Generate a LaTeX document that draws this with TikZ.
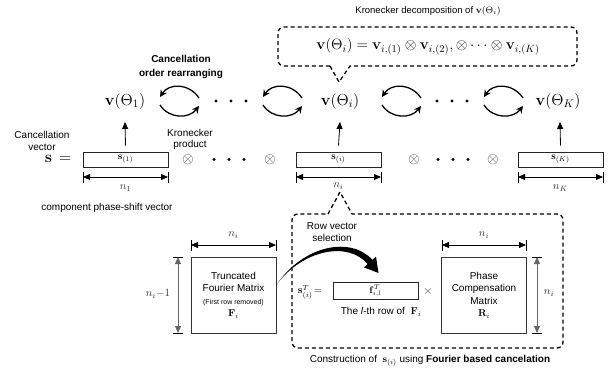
\RequirePackage{fix-cm}
\documentclass[tikz,border=0pt]{standalone}
\usepackage[no-math]{fontspec}
\setmainfont{Liberation Sans}
\usetikzlibrary{arrows.meta,calc}
\newcommand\hdimline[3]{%
  \draw[dimtick] (#1,#3-5.5) -- (#1,#3+5.5);
  \draw[dimtick] (#2,#3-5.5) -- (#2,#3+5.5);
  \draw[dimarrow] (#1,#3) -- (#2,#3);}
\newcommand\vdimline[3]{%
  \draw[dimtick] (#1-5,#2) -- (#1+5,#2);
  \draw[dimtick] (#1-5,#3) -- (#1+5,#3);
  \draw[dimarrow, draw=black!60] (#1,#2) -- (#1,#3);}
\begin{document}
\begin{tikzpicture}[x=1pt,y=-1pt,
  txt/.style={font=\fontsize{10}{12}\selectfont, inner sep=0pt, align=center},
  bigm/.style={font=\fontsize{16}{19}\selectfont, inner sep=0pt},
  vecbox/.style={draw=black!85, line width=0.7pt, minimum width=85pt, minimum height=15pt, inner sep=0pt, font=\fontsize{10}{12}\selectfont},
  matbox/.style={draw=black!80, line width=0.8pt, minimum width=85pt, minimum height=76pt, inner sep=0pt, align=center, font=\fontsize{10}{12.5}\selectfont},
  uparrow/.style={-{Triangle[length=7pt,width=6pt]}, line width=0.8pt},
  dimarrow/.style={{Triangle[length=7pt,width=6pt]}-{Triangle[length=7pt,width=6pt]}, line width=0.8pt},
  dimtick/.style={line width=0.6pt},
  swaparrow/.style={line width=1.3pt, -{Stealth[length=7pt,width=7pt]}},
  dashbox/.style={line width=1.3pt, dash pattern=on 4pt off 3pt},
  otim/.style={font=\fontsize{15}{17}\selectfont, inner sep=0pt, text=black!75},
  dimlabel/.style={font=\fontsize{11}{13}\selectfont, inner sep=0pt, text=black!80},
  swaparrows/.pic={
    \draw[swaparrow] (20,-3) .. controls (10,-18) and (-10,-18) .. (-19,-4);
    \draw[swaparrow] (-19,4) .. controls (-10,18) and (10,18) .. (20,5);
  },
]
\useasboundingbox (0,0) rectangle (613,373);

% ---------- top: Kronecker decomposition callout
\node[txt, font=\fontsize{9.5}{11}\selectfont] (kdtitle) at (428,11) {Kronecker decomposition of $\mathbf{v}(\Theta_i)$};
\draw[dashbox] (330,66) -- (339,82) -- (350,66) [rounded corners=6pt] -- (577,66) -- (577,27) -- (278,27) -- (278,66) [sharp corners] -- cycle;
\node[inner sep=0pt, font=\fontsize{15}{18}\selectfont] (keq) at (428,47) {$\mathbf{v}(\Theta_i) = \mathbf{v}_{i,(1)} \otimes \mathbf{v}_{i,(2)}, \otimes \cdots \otimes \mathbf{v}_{i,(K)}$};

\node[txt, font=\bfseries\fontsize{10}{14}\selectfont] (corder) at (181,66.5) {Cancellation\\order rearranging};

% ---------- row of v's
\node[bigm] (v1) at (125,101) {$\mathbf{v}(\Theta_1)$};
\node[bigm] (vi) at (340,101) {$\mathbf{v}(\Theta_i)$};
\node[bigm] (vK) at (558,101) {$\mathbf{v}(\Theta_K)$};
\pic at (179,101) {swaparrows};
\pic at (282,101) {swaparrows};
\pic at (401,101) {swaparrows};
\pic at (503,101) {swaparrows};
\foreach \x in {216,231,246,437,452,467} \fill (\x,101) circle (1.7pt);

% ---------- row of s
\node[txt] (cvec) at (42,140.5) {Cancellation\\vector};
\node[bigm] (sdef) at (58,159) {$\mathbf{s}\,=$};
\node[txt, font=\fontsize{10}{11.5}\selectfont] (kprod) at (190,139.5) {Kronecker\\product};
\node[vecbox] (s1) at (125.5,159.5) {$\mathbf{s}_{(1)}$};
\node[vecbox] (si) at (338.5,159.5) {$\mathbf{s}_{(i)}$};
\node[vecbox] (sK) at (560.5,159.5) {$\mathbf{s}_{(K)}$};
\node[otim] (ot1) at (188,160) {$\otimes$};
\node[otim] (ot2) at (270,160) {$\otimes$};
\node[otim] (ot3) at (414,160) {$\otimes$};
\node[otim] (ot4) at (493,160) {$\otimes$};
\foreach \x in {214,229,244,438,453,468} \fill (\x,159.5) circle (1.7pt);

\draw[uparrow] ([yshift=6pt]s1.north) -- (125,122);
\draw[uparrow] ([yshift=6pt]si.north) -- (340,122);
\draw[uparrow] ([yshift=6pt]sK.north) -- (560,122);

\hdimline{83}{168}{177}
\hdimline{296}{381}{177}
\hdimline{518}{603}{177}
\node[dimlabel] (n1) at (125.5,188) {$n_1$};
\node[dimlabel] (ni) at (338.5,186) {$n_i$};
\node[dimlabel] (nK) at (560.5,188) {$n_K$};
\node[txt] (cpsv) at (107,208) {component phase-shift vector};

% ---------- lower: construction of s_(i)
\draw[dashbox] (328,214) -- (340,192) -- (352,214) [rounded corners=6pt] -- (563,214) -- (563,348) -- (292,348) -- (292,214) [sharp corners] -- cycle;

\node[matbox] (trunc) at (233.5,295) {Truncated\\Fourier Matrix\\{\fontsize{7}{9}\selectfont(First row removed)}\\$\mathbf{F}_i$};
\node[matbox] (phase) at (484,295) {Phase\\Compensation\\Matrix\\$\mathbf{R}_i$};
\hdimline{191}{276}{245}
\hdimline{442}{526}{245}
\node[dimlabel] (nt) at (233.5,235) {$n_i$};
\node[dimlabel] (np) at (484,235) {$n_i$};
\vdimline{178}{257}{333}
\vdimline{537}{257}{333}
\node[dimlabel] (ntm) at (158,294) {$n_i{-}1$};
\node[dimlabel] (npv) at (549,293) {$n_i$};

\node[txt] (rvs) at (332,232.5) {Row vector\\selection};
\node[inner sep=0pt, font=\fontsize{10.5}{13}\selectfont] (sT) at (310,292) {$\mathbf{s}^T_{(i)}\!=$};
\node[vecbox, minimum height=17pt, font=\fontsize{9.5}{11}\selectfont] (frow) at (375.5,290.5) {$\mathbf{f}^T_{i,l}$};
\node[otim, font=\fontsize{12}{14}\selectfont] (times) at (428,291) {$\times$};
\node[txt] (lrow) at (381,312) {The \textit{l}-th row of \;$\mathbf{F}_i$};
\node[txt] (constr) at (430,361) {Construction of \;$\mathbf{s}_{(i)}$ using \textbf{Fourier based cancelation}};

% tapered row-selection arrow
\fill (277.2,283.8) .. controls (304,245) and (351,236) .. (372.4,259.9) -- (376,256.6) -- (378.5,273) -- (364,267.4) -- (367.6,264.1) .. controls (349,241.5) and (304,248.5) .. (276.6,284.4) -- cycle;
\end{tikzpicture}
\end{document}
